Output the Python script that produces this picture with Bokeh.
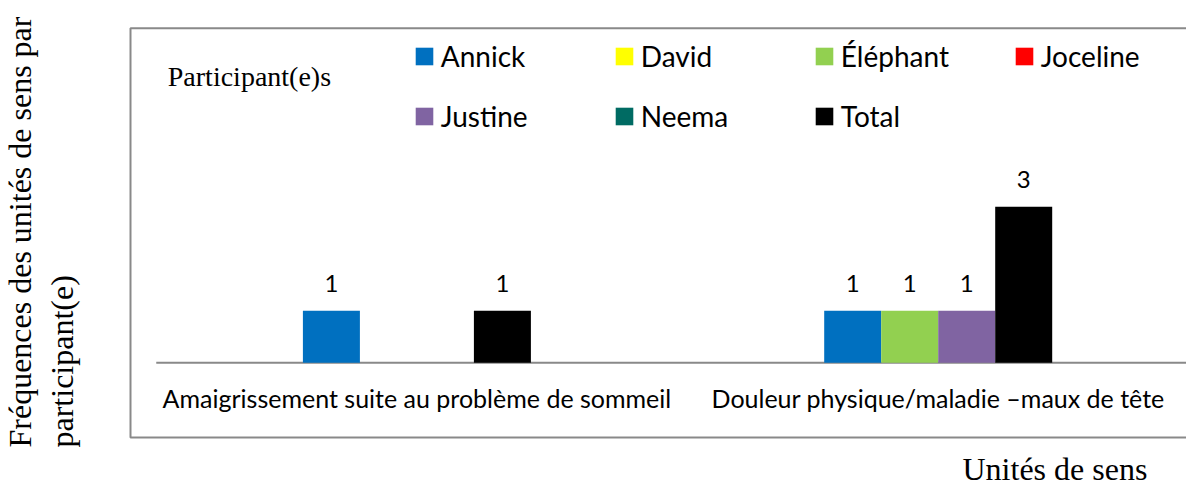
from bokeh.plotting import figure
from bokeh.models import ColumnDataSource, Legend, LegendItem, Label, Range1d
from bokeh.core.properties import value
from bokeh.embed import file_html
from bokeh.resources import INLINE

# ---------------- data ----------------
categories = ["Amaigrissement suite au problème de sommeil",
              "Douleur physique/maladie –maux de tête"]
series = ["Annick", "David", "Éléphant", "Joceline", "Justine", "Neema", "Total"]
colors = ["#0070C0", "#FFFF00", "#92D050", "#FF0000", "#8064A2", "#006B63", "#000000"]
annick = [1, 1]
david = [0, 0]
elephant = [0, 1]
joceline = [0, 0]
justine = [0, 1]
neema = [0, 0]
total = [1, 3]
values = [annick, david, elephant, joceline, justine, neema, total]

legend_title = "Participant(e)s"
y_title = ["Fréquences des unités de sens par", "participant(e)"]
x_title = "Unités de sens"

# ---------------- layout (pixels in the page; frame = whole canvas) ----------------
W, H = 1186, 487
CAT0_PX, CAT_PX = 416.4, 521.3               # first category centre, px per category
ZERO_PX, UNIT_PX = 362.3, 52.0               # baseline, px per unit
BAR_PX = 57.0

x_start = (0 - CAT0_PX) / CAT_PX
x_end = (W - CAT0_PX) / CAT_PX
y_start = -(H - ZERO_PX) / UNIT_PX
y_end = ZERO_PX / UNIT_PX

def px2x(px):
    return (px - CAT0_PX) / CAT_PX

def px2y(py):
    return (ZERO_PX - py) / UNIT_PX

p = figure(width=W, height=H, output_backend="svg", toolbar_location=None,
           x_range=Range1d(x_start, x_end), y_range=Range1d(y_start, y_end),
           x_axis_location=None, y_axis_location=None, tools="")
p.min_border = 0
p.outline_line_color = None
p.grid.visible = False
p.background_fill_color = "white"
p.border_fill_color = "white"

GRAY = "#898989"
SANS = "Lato"
SERIF = "Liberation Serif"

# chart-area box (right side runs beyond the picture)
p.quad(left=[px2x(130)], right=[x_end + 1], top=[px2y(27.7)], bottom=[px2y(437)],
       fill_alpha=0, line_color=GRAY, line_width=2)

# category axis line
ncat = len(categories)
p.segment(x0=[-0.5], y0=[0], x1=[ncat - 0.5 + 1], y1=[0], line_color=GRAY, line_width=2)

# bars: only series that have a value occupy a slot
plotted = [s for s, v in zip(series, values) if any(x > 0 for x in v)]
nslot = len(plotted)
w = BAR_PX / CAT_PX

items = []
lab_x, lab_y, lab_t = [], [], []
for s, c, v in zip(series, colors, values):
    if s in plotted:
        j = plotted.index(s)
        xs = [i + (j - (nslot - 1) / 2) * w for i in range(ncat)]
        src = ColumnDataSource(dict(x=[x for x, t in zip(xs, v) if t > 0],
                                    top=[t for t in v if t > 0]))
        for x, t in zip(xs, v):
            if t > 0:
                lab_x.append(x); lab_y.append(t); lab_t.append(str(t))
    else:
        # series without any value: zero-height bars, present for the legend only
        src = ColumnDataSource(dict(x=list(range(ncat)), top=list(v)))
    r = p.vbar(x="x", top="top", bottom=0, width=w, source=src,
               fill_color=c, line_color=None)
    items.append(LegendItem(label=s, renderers=[r]))

# data labels
p.text(x=lab_x, y=lab_y, text=lab_t, y_offset=-27.4, text_align="center",
       text_baseline="alphabetic", text_font=value(SANS), text_font_size="24px",
       text_color="black")

# category labels
p.text(x=list(range(ncat)), y=[0] * ncat, text=categories, y_offset=35.0,
       text_align="center", text_baseline="alphabetic", text_font=value(SANS),
       text_font_size="25px", text_color="black")

# legend
GW = 22
LEG_TOP, LEG_H = 39.5, 93
legend = Legend(items=items, orientation="horizontal", ncols=4,
                location=(415 - GW * 0.1, H - LEG_TOP - LEG_H),
                glyph_width=GW, glyph_height=GW, label_standoff=6,
                label_width=146, spacing=26, padding=0, margin=0,
                border_line_color=None, background_fill_alpha=0,
                label_text_font=SANS, label_text_font_size="28px",
                label_text_color="black")
p.add_layout(legend)

p.add_layout(Label(x=167.3, y=H - 75.5, x_units="screen", y_units="screen",
                   text=legend_title, text_font=SERIF, text_font_size="28px",
                   text_align="left", text_baseline="alphabetic", text_color="black"))

# axis titles
for k, bx in enumerate([19.5, 61.5]):
    p.add_layout(Label(x=bx, y=H - 447, x_units="screen", y_units="screen",
                       text=y_title[k], angle=90, angle_units="deg",
                       text_font=SERIF, text_font_size="32px",
                       text_align="left", text_baseline="alphabetic",
                       text_color="black"))
p.add_layout(Label(x=962, y=H - 468, x_units="screen", y_units="screen",
                   text=x_title, text_font=SERIF, text_font_size="32px",
                   text_align="left", text_baseline="alphabetic", text_color="black"))

open("out.html", "w").write(file_html(p, INLINE))
